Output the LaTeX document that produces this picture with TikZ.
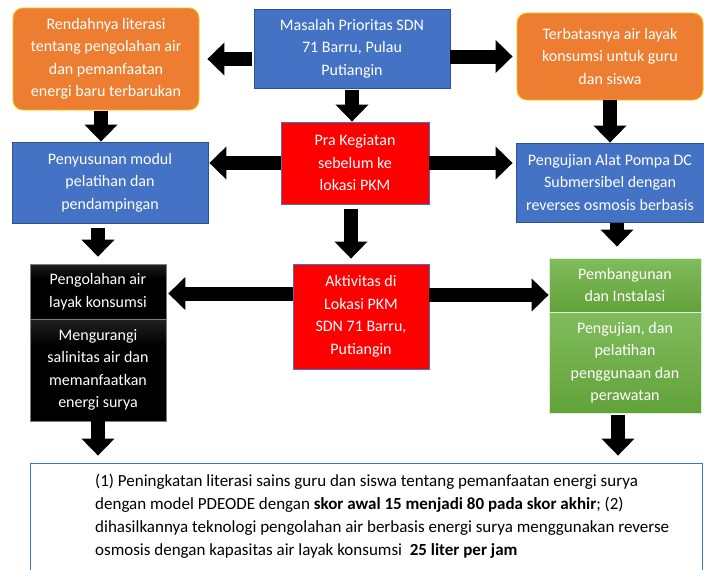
\documentclass[tikz,border=0pt]{standalone}
\usepackage{fontspec}
\setmainfont{Carlito}
\usepackage{xcolor}
\usetikzlibrary{arrows.meta}
\definecolor{oranye}{HTML}{ED7D31}
\definecolor{kuning}{HTML}{FFC000}
\definecolor{biru}{HTML}{4472C4}
\definecolor{biruTua}{HTML}{2F528F}
\definecolor{merah}{HTML}{FF0000}
\definecolor{hijauAtas}{HTML}{80BC5C}
\definecolor{hijauBawah}{HTML}{62A23A}
\definecolor{abu}{HTML}{7F7F7F}
\pgfdeclareverticalshading{hitamgradasi}{100bp}{color(0bp)=(black); color(62bp)=(black); color(100bp)=(black!62)}

\begin{document}
\begin{tikzpicture}
      [x=1pt, y=-1pt,
      every node/.style={align=center, text=white, inner sep=0pt,
        font=\fontsize{16}{22.5}\selectfont},
      oranyebox/.style={rectangle, rounded corners=10pt, fill=oranye, draw=kuning, line width=0.8pt},
      birubox/.style={rectangle, fill=biru, draw=biruTua, line width=0.8pt},
      merahbox/.style={rectangle, fill=merah, draw=biru, line width=0.8pt},
      hitambox/.style={rectangle, shading=hitamgradasi, draw=abu, line width=0.6pt},
      hijaubox/.style={rectangle, top color=hijauAtas, bottom color=hijauBawah, draw=white!75!hijauAtas, line width=0.8pt},
      panah/.style={line width=14pt, -{Triangle[width=32pt,length=17pt]}},
      ]
      \clip (0,0) rectangle (704,570);
      \fill[white] (0,0) rectangle (704,570);
      % baris atas
      \node[oranyebox, minimum width=186pt, minimum height=102pt] (rendah) at (106,59)
        {Rendahnya literasi\\tentang pengolahan air\\dan pemanfaatan\\energi baru terbarukan};
      \node[birubox, minimum width=196pt, minimum height=79pt] (masalah) at (352,48.5)
        {Masalah Prioritas SDN\\71 Barru, Pulau\\Putiangin};
      \node[oranyebox, minimum width=186pt, minimum height=87pt] (terbatas) at (610,56.5)
        {Terbatasnya air layak\\konsumsi untuk guru\\dan siswa};
      % baris tengah
      \node[birubox, minimum width=196pt, minimum height=81pt] (penyusunan) at (110,182.5)
        {Penyusunan modul\\pelatihan dan\\pendampingan};
      \node[merahbox, minimum width=148pt, minimum height=82pt] (pra) at (355,163)
        {Pra Kegiatan\\sebelum ke\\lokasi PKM};
      \node[birubox, minimum width=188pt, minimum height=79pt] (pengujian) at (610,182.5)
        {Pengujian Alat Pompa DC\\Submersibel dengan\\reverses osmosis berbasis};
      % baris bawah
      \node[hitambox, minimum width=136pt, minimum height=55pt] (pengolahan) at (98,291.5)
        {Pengolahan air\\layak konsumsi};
      \node[hitambox, minimum width=136pt, minimum height=102pt] (mengurangi) at (98,370)
        {Mengurangi\\salinitas air dan\\memanfaatkan\\energi surya};
      \node[merahbox, minimum width=136pt, minimum height=105pt] (aktivitas) at (361,316.5)
        {Aktivitas di\\Lokasi PKM\\SDN 71 Barru,\\Putiangin};
      \node[hijaubox, minimum width=152pt, minimum height=54pt] (pembangunan) at (625,285)
        {Pembangunan\\dan Instalasi};
      \node[hijaubox, minimum width=152pt, minimum height=101pt] (pelatihan) at (625,362.5)
        {Pengujian, dan\\pelatihan\\penggunaan dan\\perawatan};
      % hasil
      \node[rectangle, draw=biru, line width=0.8pt, fill=white, minimum width=672pt, minimum height=114pt] (hasil) at (366,520) {};
      \node[anchor=north west, align=left, text=black, font=\fontsize{17}{23}\selectfont] (hasilteks) at (95,474)
        {(1) Peningkatan literasi sains guru dan siswa tentang pemanfaatan energi surya\\
         dengan model PDEODE dengan \textbf{skor awal 15 menjadi 80 pada skor akhir}; (2)\\
         dihasilkannya teknologi pengolahan air berbasis energi surya menggunakan reverse\\
         osmosis dengan kapasitas air layak konsumsi\ \ \textbf{25 liter per jam}};
      % panah
      \coordinate (g) at ([yshift=-10pt]pembangunan.west);
      \draw[panah, shorten <=2pt, shorten >=8pt] (rendah.east -| masalah.west) -- (rendah.east);
      \draw[panah, shorten >=4pt] (terbatas.west -| masalah.east) -- (terbatas.west);
      \draw[panah, shorten <=2pt] (masalah.south) -- (masalah.south |- pra.north);
      \draw[panah, shorten <=1pt] ([xshift=-5pt]rendah.south) -- ([xshift=-5pt]rendah.south |- penyusunan.north);
      \draw[panah] (terbatas.south) -- (terbatas.south |- pengujian.north);
      \draw[panah, shorten >=1pt] (pra.west) -- (pra.west -| penyusunan.east);
      \draw[panah, shorten >=3pt] (pra.east) -- (pra.east -| pengujian.west);
      \draw[panah, shorten <=5pt, shorten >=5pt] ([xshift=-4pt]pra.south) -- ([xshift=-4pt]pra.south |- aktivitas.north);
      \draw[panah, shorten <=5pt, shorten >=7pt] (pengolahan.north |- penyusunan.south) -- (pengolahan.north);
      \draw[panah, shorten <=1pt, shorten >=11pt] ([xshift=7pt]pengujian.south) -- ([xshift=7pt]pengujian.south |- pembangunan.north);
      \draw[panah, shorten >=2pt] ([yshift=-2pt]pengolahan.east -| aktivitas.west) -- ([yshift=-2pt]pengolahan.east);
      \draw[panah] (g -| aktivitas.east) -- (g);
      \draw[panah, shorten >=7pt] (mengurangi.south) -- (mengurangi.south |- hasil.north);
      \draw[panah, shorten <=2pt, shorten >=7pt] ([xshift=-7pt]pelatihan.south) -- ([xshift=-7pt]pelatihan.south |- hasil.north);
\end{tikzpicture}
\end{document}
